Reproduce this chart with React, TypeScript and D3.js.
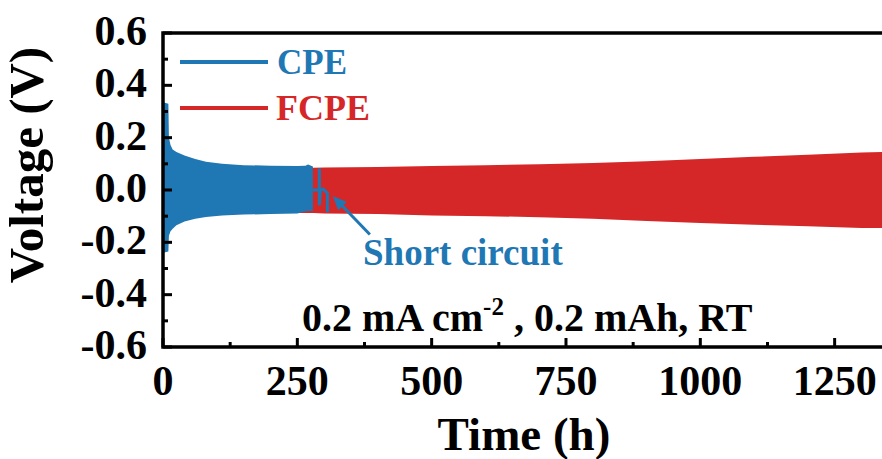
import React from 'react';
import * as d3 from 'd3';

// tick values and labels
const xTicks = [0, 250, 500, 750, 1000, 1250];
const xMinorTicks = [125, 375, 625, 875, 1125];
const yTicks = [-0.6, -0.4, -0.2, 0.0, 0.2, 0.4, 0.6];
const yTickLabels = ['-0.6', '-0.4', '-0.2', '0.0', '0.2', '0.4', '0.6'];
const yMinorTicks = [-0.5, -0.3, -0.1, 0.1, 0.3, 0.5];

// CPE envelope (time h, upper V, lower V)
const cpeTime = [0, 10, 11, 14, 18, 25, 40, 60, 80, 110, 150, 200, 250, 265, 270, 279];
const cpeUpper = [0.335, 0.33, 0.2, 0.172, 0.155, 0.145, 0.132, 0.118, 0.108, 0.1, 0.095, 0.093, 0.092, 0.093, 0.097, 0.09];
const cpeLower = [-0.24, -0.235, -0.175, -0.158, -0.148, -0.135, -0.12, -0.11, -0.103, -0.097, -0.094, -0.092, -0.09, -0.082, -0.08, -0.08];

// CPE trace after short circuit
const shortTime = [279, 291, 291, 291, 293, 298, 305, 306, 306];
const shortVolt = [0.0, 0.0, 0.082, -0.058, 0.0, 0.004, -0.01, -0.012, -0.085];

// FCPE envelope
const fcpeTime = [215, 280, 300, 400, 500, 600, 700, 800, 900, 1000, 1100, 1200, 1300, 1340];
const fcpeUpper = [0.085, 0.085, 0.086, 0.088, 0.092, 0.095, 0.098, 0.103, 0.11, 0.118, 0.127, 0.135, 0.143, 0.145];
const fcpeLower = [-0.088, -0.088, -0.09, -0.092, -0.097, -0.1, -0.104, -0.11, -0.118, -0.126, -0.133, -0.139, -0.145, -0.145];

const BLUE = '#1f77b4';
const RED = '#d62728';
const FONT = '"Liberation Serif", "Times New Roman", serif';

export default function App() {
    const width = 882;
    const height = 459;
    const left = 163, right = 883, top = 33, bottom = 347;

    const x = d3.scaleLinear().domain([0, 1340]).range([left, right]);
    const y = d3.scaleLinear().domain([-0.6, 0.6]).range([bottom, top]);

    const cpeArea = d3.area<number>()
        .x(i => x(cpeTime[i]))
        .y0(i => y(cpeLower[i]))
        .y1(i => y(cpeUpper[i]))(cpeTime.map((_, i) => i));

    const fcpeArea = d3.area<number>()
        .x(i => x(fcpeTime[i]))
        .y0(i => y(fcpeLower[i]))
        .y1(i => y(fcpeUpper[i]))(fcpeTime.map((_, i) => i));

    const shortLine = d3.line<number>()
        .x(i => x(shortTime[i]))
        .y(i => y(shortVolt[i]))(shortTime.map((_, i) => i));

    // arrow for "Short circuit"
    const tipX = x(316), tipY = y(-0.023);
    const tailX = x(385), tailY = y(-0.17);
    const ang = Math.atan2(tipY - tailY, tipX - tailX);
    const ah = 14, aw = 6;
    const headPts = [
        [tipX, tipY],
        [tipX - ah * Math.cos(ang) + aw * Math.sin(ang), tipY - ah * Math.sin(ang) - aw * Math.cos(ang)],
        [tipX - ah * Math.cos(ang) - aw * Math.sin(ang), tipY - ah * Math.sin(ang) + aw * Math.cos(ang)],
    ].map(p => p.join(',')).join(' ');

    return (
        <svg width={width} height={height} style={{ position: 'absolute', left: 0, top: 0, background: '#fff' }}
             fontFamily={FONT} fontWeight="bold">
            <defs>
                <clipPath id="plot">
                    <rect x={left} y={top} width={right - left} height={bottom - top} />
                </clipPath>
            </defs>
            <g clipPath="url(#plot)">
                <path d={fcpeArea || ''} fill={RED} />
                <path d={cpeArea || ''} fill={BLUE} />
                <path d={shortLine || ''} fill="none" stroke={BLUE} strokeWidth={3} />
            </g>

            {/* frame */}
            <path d={`M${right + 10},${top}H${left}V${bottom}H${right + 10}`} fill="none" stroke="#000" strokeWidth={3.5} />

            {/* x ticks */}
            {xTicks.map(t => (
                <g key={'x' + t}>
                    <line x1={x(t)} x2={x(t)} y1={bottom} y2={bottom - 9} stroke="#000" strokeWidth={3} />
                    <text x={x(t)} y={395} textAnchor="middle" fontSize={42}>{t}</text>
                </g>
            ))}
            {xMinorTicks.map(t => (
                <line key={'xm' + t} x1={x(t)} x2={x(t)} y1={bottom} y2={bottom - 5} stroke="#000" strokeWidth={3} />
            ))}

            {/* y ticks */}
            {yTicks.map((v, i) => (
                <g key={'y' + v}>
                    <line x1={left} x2={left + 9} y1={y(v)} y2={y(v)} stroke="#000" strokeWidth={3} />
                    <text x={147} y={y(v) + 12} textAnchor="end" fontSize={42}>{yTickLabels[i]}</text>
                </g>
            ))}
            {yMinorTicks.map(v => (
                <line key={'ym' + v} x1={left} x2={left + 5} y1={y(v)} y2={y(v)} stroke="#000" strokeWidth={3} />
            ))}

            {/* axis titles */}
            <text x={524} y={450} textAnchor="middle" fontSize={47}>Time (h)</text>
            <text transform="translate(43,165) rotate(-90)" textAnchor="middle" fontSize={49}>Voltage (V)</text>

            {/* legend */}
            <line x1={180} x2={268} y1={62} y2={62} stroke={BLUE} strokeWidth={4} />
            <text x={277} y={74} fontSize={35} fill={BLUE}>CPE</text>
            <line x1={180} x2={268} y1={108} y2={108} stroke={RED} strokeWidth={4} />
            <text x={276} y={120} fontSize={36} fill={RED}>FCPE</text>

            {/* annotations */}
            <line x1={tailX} y1={tailY} x2={tipX - 8 * Math.cos(ang)} y2={tipY - 8 * Math.sin(ang)} stroke={BLUE} strokeWidth={3} />
            <polygon points={headPts} fill={BLUE} />
            <text x={363} y={265} fontSize={37} fill={BLUE}>Short circuit</text>

            <text x={302} y={331} fontSize={40}>
                0.2 mA cm<tspan fontSize={25} dy={-16}>-2</tspan><tspan dy={16}> , 0.2 mAh, RT</tspan>
            </text>
        </svg>
    );
}
